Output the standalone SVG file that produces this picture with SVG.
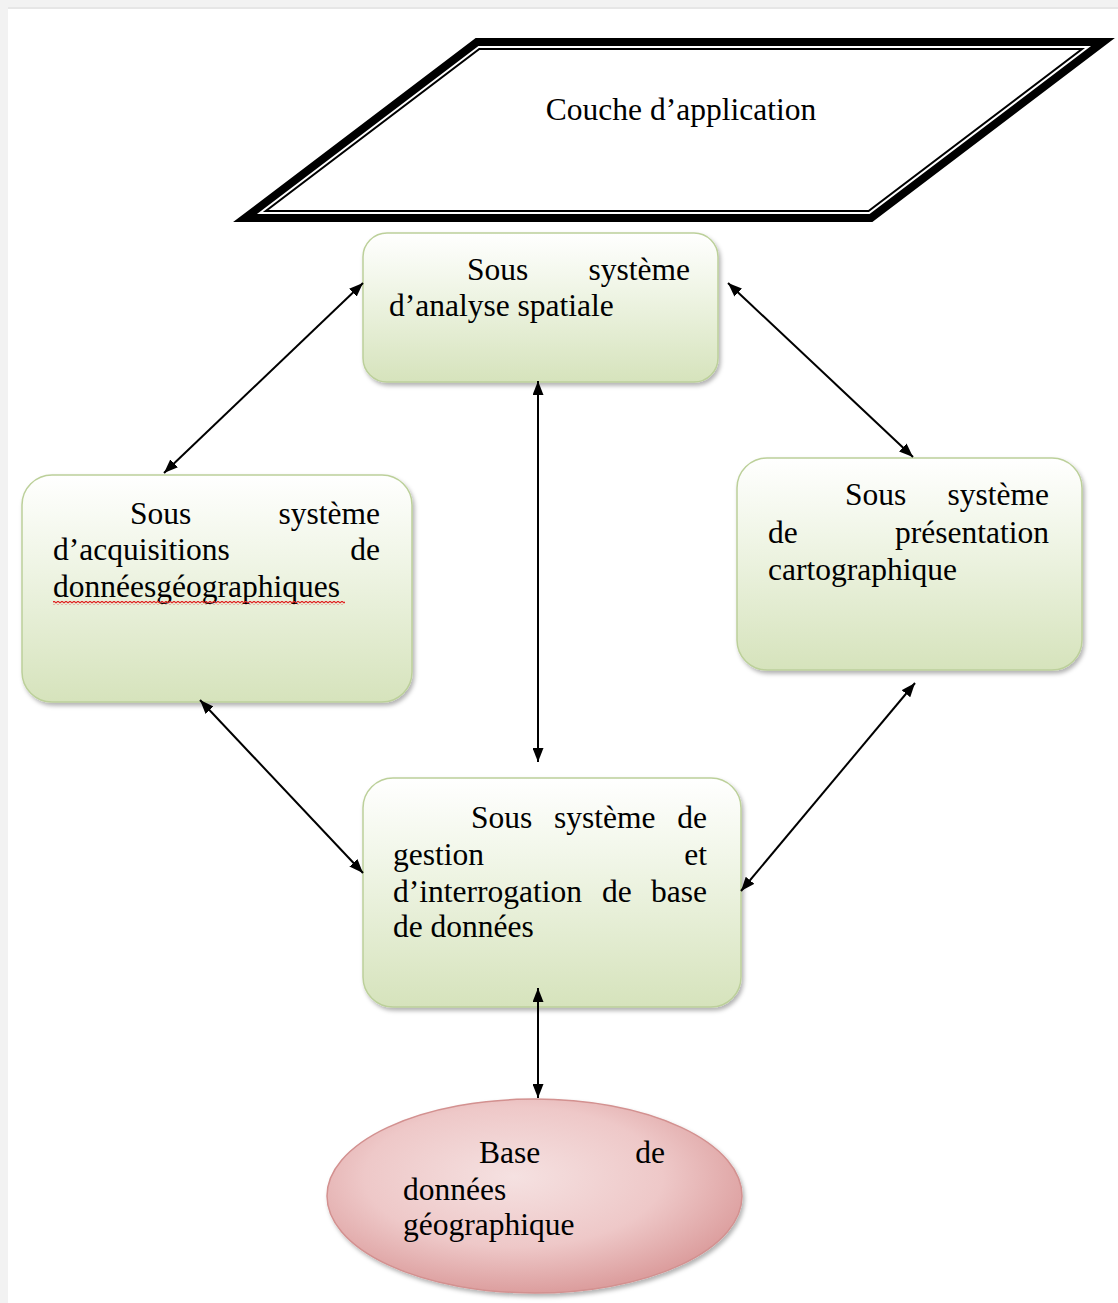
<svg xmlns="http://www.w3.org/2000/svg" width="1118" height="1303" viewBox="0 0 1118 1303">
<style>
.t{font-family:"Liberation Serif","Times New Roman",serif;font-size:31.5px;fill:#000}
.e{text-anchor:end}
.m{text-anchor:middle}
.box{fill:url(#gGreen);stroke:#bcd09a;stroke-width:1.5}
.conn line{stroke:#000;stroke-width:2;marker-start:url(#ah);marker-end:url(#ah)}
</style>
<defs>
<linearGradient id="gGreen" x1="0" y1="0" x2="0" y2="1">
<stop offset="0" stop-color="#ffffff"/>
<stop offset="0.35" stop-color="#f1f6e8"/>
<stop offset="1" stop-color="#d6e3bc"/>
</linearGradient>
<radialGradient id="gPink" cx="0.45" cy="0.4" r="0.6">
<stop offset="0" stop-color="#f5e1e1"/>
<stop offset="0.6" stop-color="#eec8c8"/>
<stop offset="1" stop-color="#dc9e9e"/>
</radialGradient>
<filter id="sh" x="-10%" y="-10%" width="125%" height="130%">
<feDropShadow dx="2" dy="3" stdDeviation="2" flood-color="#000" flood-opacity="0.3"/>
</filter>
<marker id="ah" viewBox="0 0 14 11" refX="14" refY="5.5" markerWidth="14" markerHeight="11" markerUnits="userSpaceOnUse" orient="auto-start-reverse">
<path d="M0,0 L14,5.5 L0,11 z" fill="#000"/>
</marker>
<pattern id="wave" width="4" height="4" patternUnits="userSpaceOnUse">
<path d="M0,3 L2,1 L4,3" stroke="#e02020" stroke-width="1.2" fill="none"/>
</pattern>
</defs>
<rect x="0" y="0" width="1118" height="1303" fill="#ffffff"/>
<rect x="0" y="0" width="1118" height="8" fill="#f2f2f2"/>
<rect x="0" y="7" width="1118" height="2" fill="#e6e6e6"/>
<rect x="0" y="0" width="8" height="1303" fill="#f2f2f2"/>

<g id="couche-application">
<polygon points="477,42 1103,42 871,218 245,218" fill="#fff" stroke="#000" stroke-width="8" stroke-linejoin="miter"/>
<polygon points="479.3,49 1082.1,49 868.6,211 265.8,211" fill="none" stroke="#000" stroke-width="2"/>
<text class="t m" x="681" y="120">Couche d’application</text>
</g>

<g id="analyse-spatiale">
<rect class="box" x="363" y="233" width="355" height="149" rx="24" filter="url(#sh)"/>
<text class="t" x="467" y="280">Sous</text>
<text class="t e" x="690" y="280">système</text>
<text class="t" x="389" y="316">d’analyse spatiale</text>
</g>

<g id="acquisition">
<rect class="box" x="22" y="475" width="390" height="227" rx="30" filter="url(#sh)"/>
<text class="t" x="130" y="524">Sous</text>
<text class="t e" x="380" y="524">système</text>
<text class="t" x="53" y="560">d’acquisitions</text>
<text class="t e" x="380" y="560">de</text>
<text class="t" x="53" y="597">donnéesgéographiques</text>
<rect x="53" y="601" width="292" height="4" fill="url(#wave)"/>
</g>

<g id="presentation">
<rect class="box" x="737" y="458" width="345" height="212" rx="30" filter="url(#sh)"/>
<text class="t" x="845" y="505">Sous</text>
<text class="t e" x="1049" y="505">système</text>
<text class="t" x="768" y="543">de</text>
<text class="t e" x="1049" y="543">présentation</text>
<text class="t" x="768" y="580">cartographique</text>
</g>

<g id="gestion">
<rect class="box" x="363" y="778" width="378" height="229" rx="30" filter="url(#sh)"/>
<text class="t" x="471" y="828">Sous</text>
<text class="t" x="554" y="828">système</text>
<text class="t e" x="707" y="828">de</text>
<text class="t" x="393" y="865">gestion</text>
<text class="t e" x="707" y="865">et</text>
<text class="t" x="393" y="902">d’interrogation</text>
<text class="t" x="602" y="902">de</text>
<text class="t e" x="707" y="902">base</text>
<text class="t" x="393" y="937">de données</text>
</g>

<g id="base-donnees">
<ellipse cx="534.5" cy="1196" rx="207.5" ry="97" fill="url(#gPink)" stroke="#d39190" stroke-width="1.5" filter="url(#sh)"/>
<text class="t" x="479" y="1163">Base</text>
<text class="t e" x="665" y="1163">de</text>
<text class="t" x="403" y="1200">données</text>
<text class="t" x="403" y="1235">géographique</text>
</g>

<g id="connectors" class="conn">
<line x1="164" y1="473" x2="363" y2="283"/>
<line x1="728" y1="283" x2="913" y2="457"/>
<line x1="538" y1="381" x2="538" y2="762"/>
<line x1="200" y1="700" x2="363" y2="873"/>
<line x1="915" y1="683" x2="741" y2="891"/>
<line x1="538" y1="988" x2="538" y2="1098"/>
</g>
</svg>
